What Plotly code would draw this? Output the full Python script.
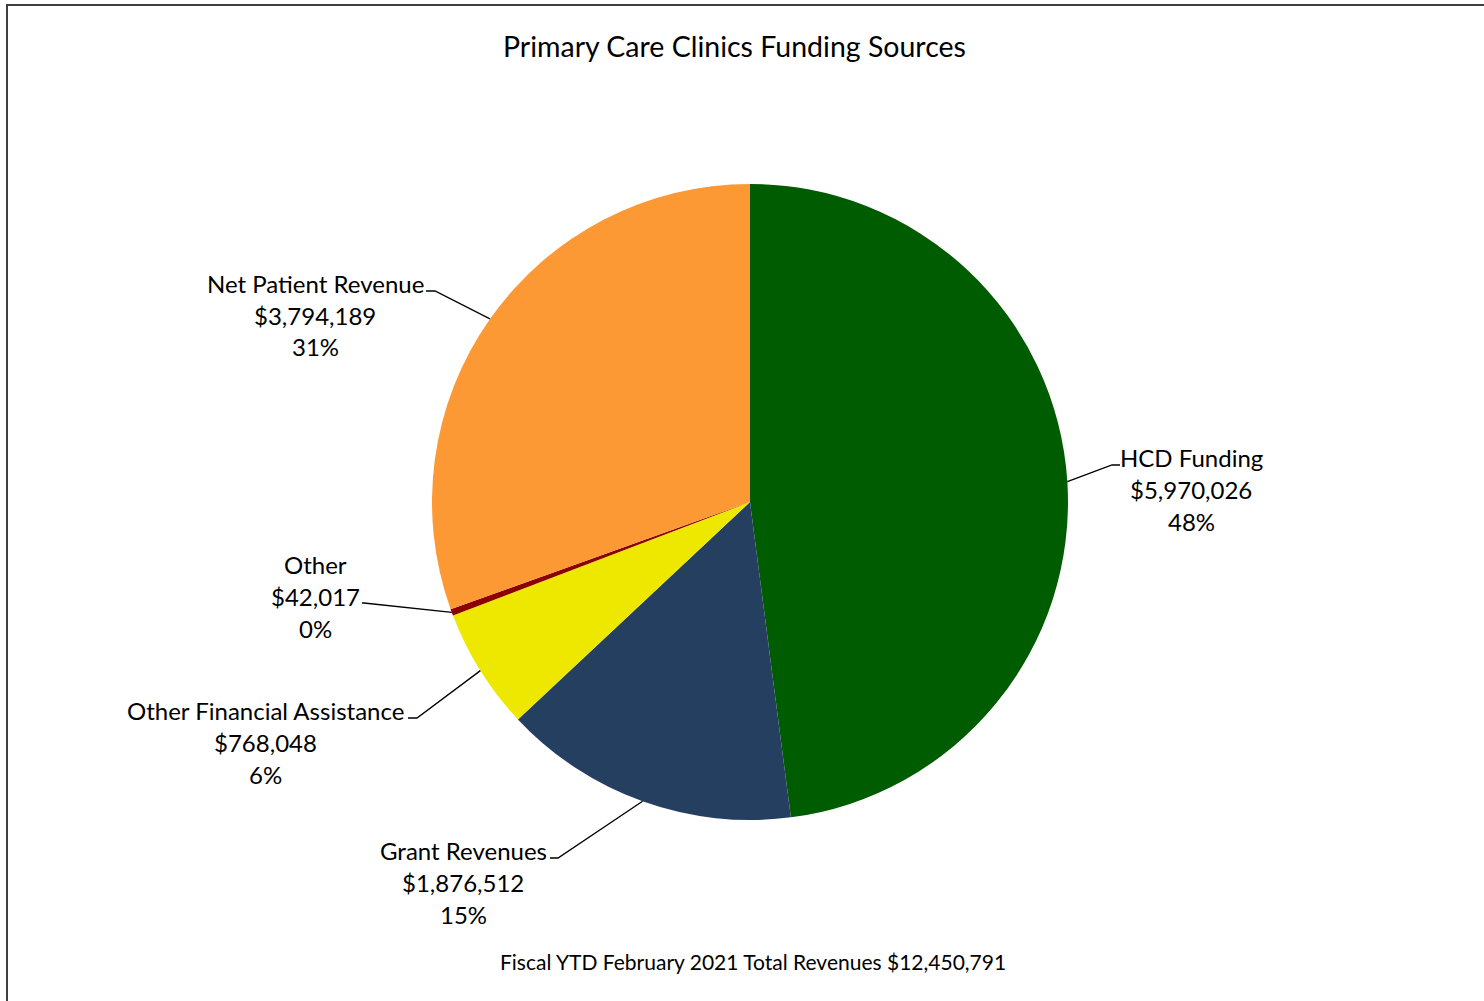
import math
import plotly.graph_objects as go

# ---- data ----
categories = ["HCD Funding", "Grant Revenues", "Other Financial Assistance", "Other", "Net Patient Revenue"]
values = [5970026, 1876512, 768048, 42017, 3794189]
percent_labels = [48, 15, 6, 0, 31]
title_text = "Primary Care Clinics Funding Sources"
footer_text = "Fiscal YTD February 2021 Total Revenues $12,450,791"

# ---- styles / layout ----
colors = ["#005C00", "#253F60", "#EEE800", "#8B0000", "#FD9935"]
W, H = 1484, 1001
CX, CY, R = 750, 502, 318
FONT = "Lato, Carlito, Calibri, sans-serif"
LABEL_SIZE = 24
LINE_GAP = 32
# per label: text centre x, first line y, elbow x/y, horizontal end x (pixels)
label_layout = {
    "HCD Funding": dict(tx=1191, ty=457, ex=1112, ey=465, hx=1120),
    "Grant Revenues": dict(tx=463, ty=850, ex=558, ey=858, hx=550),
    "Other Financial Assistance": dict(tx=265, ty=710, ex=417, ey=718, hx=408),
    "Other": dict(tx=315, ty=564, ex=364, ey=603, hx=362),
    "Net Patient Revenue": dict(tx=315, ty=283, ex=435, ey=291, hx=426),
}


def px(x):
    return x / W


def py(y):
    return 1 - y / H


fig = go.Figure(
    go.Pie(
        labels=categories,
        values=values,
        sort=False,
        direction="clockwise",
        rotation=0,
        marker=dict(colors=colors, line=dict(width=0)),
        textinfo="none",
        hoverinfo="label+value+percent",
        showlegend=False,
        domain=dict(x=[px(CX - R), px(CX + R)], y=[py(CY + R), py(CY - R)]),
    )
)

annotations = []
shapes = []
total = sum(values)
cum = 0
for cat, val, pct in zip(categories, values, percent_labels):
    mid = (cum + val / 2) / total
    cum += val
    ang = 2 * math.pi * mid
    sx = CX + R * math.sin(ang)
    sy = CY - R * math.cos(ang)
    lay = label_layout[cat]
    lines = [cat, "${:,}".format(val), f"{pct}%"]
    for i, t in enumerate(lines):
        annotations.append(dict(
            x=px(lay["tx"]), y=py(lay["ty"] + i * LINE_GAP), xref="paper", yref="paper",
            text=t, showarrow=False, xanchor="center", yanchor="middle",
            font=dict(family=FONT, size=LABEL_SIZE, color="#000000"),
        ))
    path = "M {},{} L {},{} L {},{}".format(
        px(sx), py(sy), px(lay["ex"]), py(lay["ey"]), px(lay["hx"]), py(lay["ey"]))
    shapes.append(dict(type="path", path=path, xref="paper", yref="paper",
                       line=dict(color="#000000", width=1.3)))

annotations.append(dict(x=px(734), y=py(46), xref="paper", yref="paper", text=title_text,
                        showarrow=False, xanchor="center", yanchor="middle",
                        font=dict(family=FONT, size=28.5, color="#000000")))
annotations.append(dict(x=px(753), y=py(961), xref="paper", yref="paper", text=footer_text,
                        showarrow=False, xanchor="center", yanchor="middle",
                        font=dict(family=FONT, size=21, color="#000000")))

# chart frame
shapes.append(dict(type="rect", xref="paper", yref="paper",
                   x0=px(7), x1=1.05, y0=-0.05, y1=py(5),
                   line=dict(color="#404040", width=2)))

fig.update_layout(
    width=W, height=H,
    margin=dict(l=0, r=0, t=0, b=0),
    paper_bgcolor="#FFFFFF",
    plot_bgcolor="#FFFFFF",
    annotations=annotations,
    shapes=shapes,
)

fig.write_html("out.html")
